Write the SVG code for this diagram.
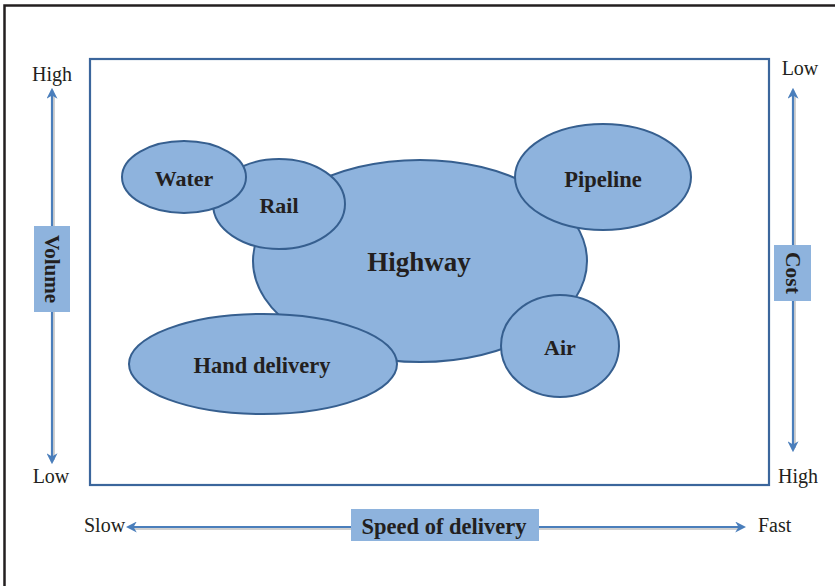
<svg xmlns="http://www.w3.org/2000/svg" width="835" height="586" viewBox="0 0 835 586">
  <defs>
    <style>
      .frame { fill: none; stroke: #231f20; stroke-width: 2.5; }
      .box { fill: none; stroke: #3b669c; stroke-width: 2.2; }
      .node { fill: #8eb3dd; stroke: #365f8f; stroke-width: 2; }
      .axis { stroke: #4a7ebb; stroke-width: 2.2; fill: none; }
      .shadow { stroke: #d0d0d0; stroke-width: 2; fill: none; }
      .tag { fill: #8eb3dd; }
      .lbl { font-weight: bold; fill: #231f20; text-anchor: middle; dominant-baseline: central; }
      .end { font-size: 20px; fill: #231f20; }
    </style>
    <marker id="head" viewBox="0 0 10 10" refX="8" refY="5" markerWidth="5" markerHeight="5" orient="auto-start-reverse" markerUnits="strokeWidth">
      <path d="M0,0 L10,5 L0,10 L3,5 Z" fill="#4a7ebb"/>
    </marker>
  </defs>

  <rect width="835" height="586" fill="#ffffff"/>
  <!-- outer page frame -->
  <path class="frame" d="M4.5,586 V5.5 H835"/>

  <!-- chart area -->
  <rect class="box" x="90" y="59" width="679" height="426"/>

  <g id="connectors">
    <line class="shadow" x1="54" y1="94" x2="54" y2="460"/>
    <line class="shadow" x1="795" y1="94" x2="795" y2="448"/>
    <line class="shadow" x1="132" y1="529" x2="740" y2="529"/>
    <line class="axis" x1="52" y1="90" x2="52" y2="462" marker-start="url(#head)" marker-end="url(#head)"/>
    <line class="axis" x1="793" y1="90" x2="793" y2="450" marker-start="url(#head)" marker-end="url(#head)"/>
    <line class="axis" x1="128" y1="527" x2="744" y2="527" marker-start="url(#head)" marker-end="url(#head)"/>
  </g>

  <g font-family="Liberation Serif, Times New Roman, serif">
    <g id="axis-volume">
      <text class="end" x="52" y="81" text-anchor="middle">High</text>
      <text class="end" x="51" y="483" text-anchor="middle">Low</text>
      <rect class="tag" x="34" y="226" width="36" height="86"/>
      <text class="lbl" font-size="21" transform="translate(52,269) rotate(90)">Volume</text>
    </g>

    <g id="axis-cost">
      <text class="end" x="800" y="75" text-anchor="middle">Low</text>
      <text class="end" x="798" y="483" text-anchor="middle">High</text>
      <rect class="tag" x="774" y="245" width="37" height="56"/>
      <text class="lbl" font-size="21.5" transform="translate(793,273) rotate(90)">Cost</text>
    </g>

    <g id="axis-speed">
      <text class="end" x="84" y="532">Slow</text>
      <text class="end" x="758" y="532">Fast</text>
      <rect class="tag" x="351" y="509" width="188" height="32"/>
      <text class="lbl" font-size="22.5" x="444" y="526">Speed of delivery</text>
    </g>

    <g id="highway">
      <ellipse class="node" cx="420" cy="261" rx="167" ry="101"/>
      <text class="lbl" font-size="27" x="419" y="262">Highway</text>
    </g>
    <g id="rail">
      <ellipse class="node" cx="279" cy="204" rx="66" ry="45"/>
      <text class="lbl" font-size="22" x="279" y="205">Rail</text>
    </g>
    <g id="water">
      <ellipse class="node" cx="184" cy="177" rx="62" ry="36"/>
      <text class="lbl" font-size="22" x="184" y="178">Water</text>
    </g>
    <g id="pipeline">
      <ellipse class="node" cx="603" cy="177" rx="88" ry="53"/>
      <text class="lbl" font-size="22.5" x="603" y="179">Pipeline</text>
    </g>
    <g id="air">
      <ellipse class="node" cx="560" cy="346" rx="59" ry="51"/>
      <text class="lbl" font-size="22" x="560" y="347">Air</text>
    </g>
    <g id="hand-delivery">
      <ellipse class="node" cx="263" cy="364" rx="134" ry="50"/>
      <text class="lbl" font-size="22.5" x="262" y="365">Hand delivery</text>
    </g>
  </g>
</svg>
